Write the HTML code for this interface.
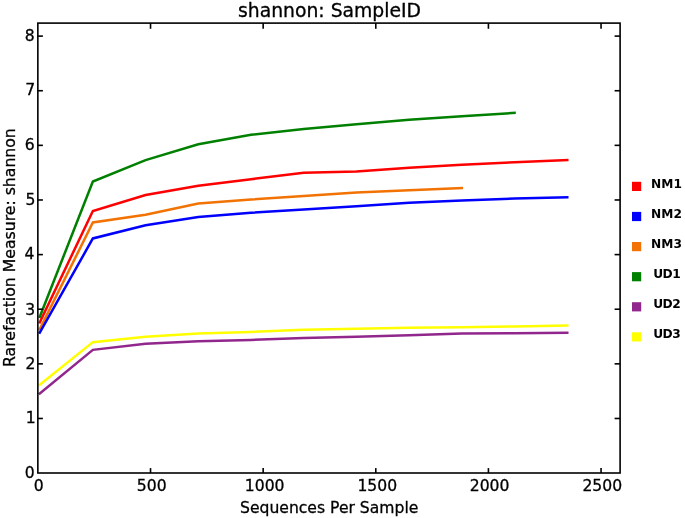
<!DOCTYPE html>
<html lang="en">
<head>
<meta charset="utf-8">
<title>shannon: SampleID</title>
<style>
html,body{margin:0;padding:0;background:#fff;}
body{width:685px;height:518px;overflow:hidden;}
svg{display:block;}
text{font-family:"DejaVu Sans","Liberation Sans",sans-serif;fill:#000;stroke:#000;stroke-width:0.3px;}
.tk{font-size:15.6px;}
.lg{font-size:12.2px;font-weight:bold;text-anchor:middle;stroke:none;}
</style>
</head>
<body>
<svg width="685" height="518" viewBox="0 0 685 518">
<rect x="0" y="0" width="685" height="518" fill="#ffffff"/>

<g fill="none" stroke-width="2.5" stroke-linecap="square" stroke-linejoin="miter">
<polyline stroke="#008000" points="39.80,316.79 92.86,181.55 145.57,160.16 198.29,144.33 251.00,134.85 303.71,129.11 356.42,124.25 409.13,119.76 461.84,116.22 514.55,112.89"/>
<polyline stroke="#ff0000" points="39.80,322.38 92.86,210.96 145.57,195.05 198.29,185.65 251.00,179.23 303.71,172.77 356.42,171.58 409.13,167.66 461.84,164.80 514.55,162.15 567.26,160.07"/>
<polyline stroke="#f27304" points="39.80,329.18 92.86,222.49 145.57,214.65 198.29,203.42 251.00,199.48 303.71,195.97 356.42,192.38 409.13,190.22 461.84,188.11"/>
<polyline stroke="#0000ff" points="39.80,332.65 92.86,238.45 145.57,225.17 198.29,216.98 251.00,212.71 303.71,209.48 356.42,206.33 409.13,202.70 461.84,200.54 514.55,198.56 567.26,197.34"/>
<polyline stroke="#91278d" points="39.80,393.42 92.86,349.85 145.57,343.72 198.29,341.26 251.00,339.95 303.71,338.05 356.42,336.77 409.13,335.22 461.84,333.62 514.55,333.25 567.26,332.87"/>
<polyline stroke="#ffff00" points="39.80,384.73 92.86,342.14 145.57,336.73 198.29,333.39 251.00,331.97 303.71,329.82 356.42,328.67 409.13,327.87 461.84,327.33 514.55,326.45 567.26,325.58"/>
</g>
<rect x="37.85" y="23.10" width="582.25" height="449.90" fill="none" stroke="#000" stroke-width="1.6"/>
<g stroke="#000" stroke-width="1.6">
<line x1="150.53" y1="473.00" x2="150.53" y2="468.10"/>
<line x1="150.53" y1="23.10" x2="150.53" y2="28.80"/>
<line x1="263.16" y1="473.00" x2="263.16" y2="468.10"/>
<line x1="263.16" y1="23.10" x2="263.16" y2="28.80"/>
<line x1="375.79" y1="473.00" x2="375.79" y2="468.10"/>
<line x1="375.79" y1="23.10" x2="375.79" y2="28.80"/>
<line x1="488.42" y1="473.00" x2="488.42" y2="468.10"/>
<line x1="488.42" y1="23.10" x2="488.42" y2="28.80"/>
<line x1="601.05" y1="473.00" x2="601.05" y2="468.10"/>
<line x1="601.05" y1="23.10" x2="601.05" y2="28.80"/>
<line x1="37.85" y1="418.48" x2="42.90" y2="418.48"/>
<line x1="620.10" y1="418.48" x2="614.60" y2="418.48"/>
<line x1="37.85" y1="363.85" x2="42.90" y2="363.85"/>
<line x1="620.10" y1="363.85" x2="614.60" y2="363.85"/>
<line x1="37.85" y1="309.23" x2="42.90" y2="309.23"/>
<line x1="620.10" y1="309.23" x2="614.60" y2="309.23"/>
<line x1="37.85" y1="254.60" x2="42.90" y2="254.60"/>
<line x1="620.10" y1="254.60" x2="614.60" y2="254.60"/>
<line x1="37.85" y1="199.98" x2="42.90" y2="199.98"/>
<line x1="620.10" y1="199.98" x2="614.60" y2="199.98"/>
<line x1="37.85" y1="145.35" x2="42.90" y2="145.35"/>
<line x1="620.10" y1="145.35" x2="614.60" y2="145.35"/>
<line x1="37.85" y1="90.73" x2="42.90" y2="90.73"/>
<line x1="620.10" y1="90.73" x2="614.60" y2="90.73"/>
<line x1="37.85" y1="36.10" x2="42.90" y2="36.10"/>
<line x1="620.10" y1="36.10" x2="614.60" y2="36.10"/>
</g>
<text class="tk" x="38.65" y="491.1" text-anchor="middle">0</text>
<text class="tk" x="151.73" y="491.1" text-anchor="middle">500</text>
<text class="tk" x="264.66" y="491.1" text-anchor="middle">1000</text>
<text class="tk" x="377.29" y="491.1" text-anchor="middle">1500</text>
<text class="tk" x="489.62" y="491.1" text-anchor="middle">2000</text>
<text class="tk" x="602.25" y="491.1" text-anchor="middle">2500</text>
<text class="tk" x="34.70" y="478.35" text-anchor="end">0</text>
<text class="tk" x="35.60" y="423.23" text-anchor="end">1</text>
<text class="tk" x="35.40" y="368.65" text-anchor="end">2</text>
<text class="tk" x="35.10" y="314.58" text-anchor="end">3</text>
<text class="tk" x="34.30" y="259.35" text-anchor="end">4</text>
<text class="tk" x="35.40" y="205.03" text-anchor="end">5</text>
<text class="tk" x="34.70" y="149.60" text-anchor="end">6</text>
<text class="tk" x="35.20" y="95.38" text-anchor="end">7</text>
<text class="tk" x="34.60" y="41.20" text-anchor="end">8</text>
<text x="329.5" y="17.3" font-size="18.8" text-anchor="middle">shannon: SampleID</text>
<text x="329.2" y="512.5" font-size="15.6" text-anchor="middle">Sequences Per Sample</text>
<text transform="translate(14.8,247.6) rotate(-90)" font-size="15.7" text-anchor="middle">Rarefaction Measure: shannon</text>
<rect x="632" y="181.80" width="9.2" height="9.2" fill="#ff0000"/>
<text class="lg" x="666.5" y="187.90">NM1</text>
<rect x="632" y="211.90" width="9.2" height="9.2" fill="#0000ff"/>
<text class="lg" x="666.5" y="218.00">NM2</text>
<rect x="632" y="242.00" width="9.2" height="9.2" fill="#f27304"/>
<text class="lg" x="666.5" y="248.10">NM3</text>
<rect x="632" y="272.10" width="9.2" height="9.2" fill="#008000"/>
<text class="lg" x="666.65" y="278.20" letter-spacing="-0.5">UD1</text>
<rect x="632" y="302.20" width="9.2" height="9.2" fill="#91278d"/>
<text class="lg" x="666.65" y="308.30" letter-spacing="-0.5">UD2</text>
<rect x="632" y="332.30" width="9.2" height="9.2" fill="#ffff00"/>
<text class="lg" x="666.65" y="338.40" letter-spacing="-0.5">UD3</text>
</svg>
</body>
</html>
